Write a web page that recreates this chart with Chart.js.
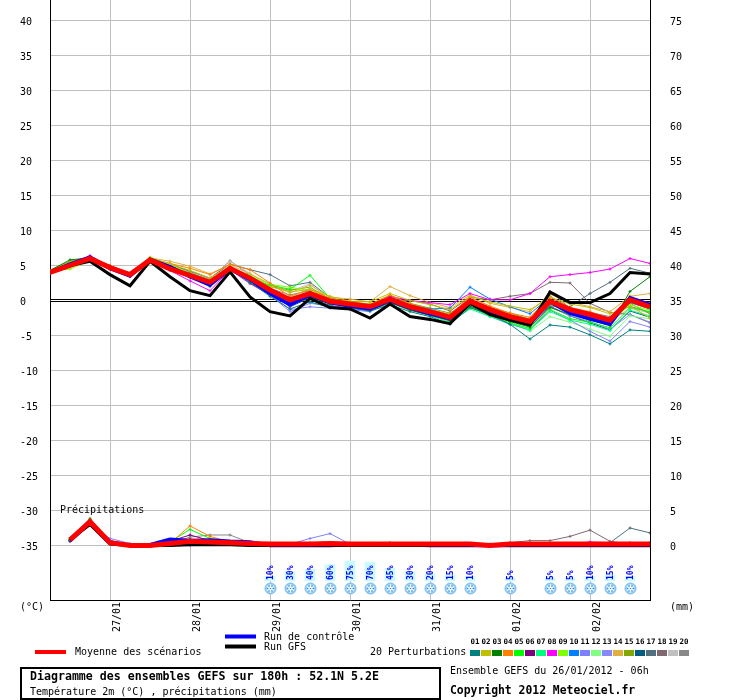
<!DOCTYPE html>
<html><head><meta charset="utf-8">
<script src="https://cdn.jsdelivr.net/npm/chart.js@4.4.0/dist/chart.umd.min.js"></script>
<style>html,body{margin:0;padding:0;background:#fff}canvas{display:block}</style>
</head><body>
<canvas id="c" width="740" height="700"></canvas>
<script>
// ---------- DATA ----------
const hoursT = [0,6,12,18,24,30,36,42,48,54,60,66,72,78,84,90,96,102,108,114,120,126,132,138,144,150,156,162,168,174,180];
const hoursP = [6,12,18,24,30,36,42,48,54,60,66,72,78,84,90,96,102,108,114,120,126,132,138,144,150,156,162,168,174,180];
const dateTicks = [18,42,66,90,114,138,162];
const dateLabels = ['27/01','28/01','29/01','30/01','31/01','01/02','02/02'];
const tempTicks = [40,35,30,25,20,15,10,5,0,-5,-10,-15,-20,-25,-30,-35];
const rightTicks = [75,70,65,60,55,50,45,40,35,30,25,20,15,10,5,0];

// Temperature 2m (°C)
const meanT = [4.0,5.0,6.0,4.7,3.7,5.8,4.5,3.6,2.6,4.6,3.2,1.5,0.1,1.0,-0.1,-0.5,-0.9,0.2,-0.9,-1.6,-2.4,-0.1,-1.3,-2.3,-3.0,-0.1,-1.3,-2.0,-2.8,0.1,-0.9];
const gfsT  = [4.0,5.0,5.6,3.7,2.1,5.6,3.4,1.4,0.7,4.1,0.5,-1.6,-2.2,0.3,-1.0,-1.2,-2.5,-0.5,-2.3,-2.7,-3.3,-0.4,-2.0,-2.8,-3.5,1.2,-0.3,-0.3,1.0,4.0,3.8];
const ctrlT = [4.0,5.2,6.2,4.6,3.5,5.9,4.8,3.4,2.2,4.5,3.0,1.0,-0.6,0.8,-0.3,-0.8,-1.2,0.0,-1.1,-1.9,-2.6,-0.3,-1.6,-2.6,-3.3,-0.2,-1.8,-2.6,-3.4,0.4,-0.6];
const p01T = [4.1,5.3,6.0,4.5,3.5,5.6,4.7,3.4,2.0,4.4,2.6,0.6,-1.2,-0.2,-1.0,-1.1,-1.5,-0.6,-1.6,-2.3,-3.4,-1.0,-2.0,-3.4,-5.5,-3.5,-3.8,-4.9,-6.2,-4.2,-4.4];
const p02T = [4.2,5.5,6.1,4.9,3.8,6.1,5.2,4.3,3.2,4.9,3.3,2.0,1.2,1.6,0.6,-0.1,-0.2,1.0,0.0,-0.6,-1.3,0.6,-0.2,-0.8,-1.3,0.4,-0.5,-1.0,-1.9,-0.8,-2.5];
const p03T = [4.3,5.8,6.1,4.6,3.6,5.8,4.8,3.8,2.4,4.8,2.5,1.0,-0.5,0.5,-0.5,-0.8,-1.4,-0.3,-1.4,-2.1,-2.9,-0.8,-2.0,-3.0,-3.8,-1.0,-2.0,-2.8,-3.6,1.3,3.4];
const p04T = [4.0,5.2,5.9,5.0,3.8,6.0,5.3,4.6,3.7,5.2,4.4,2.5,0.6,1.6,0.3,-0.2,-0.6,0.8,-0.5,-1.3,-2.0,0.5,-0.8,-1.8,-2.4,0.6,-1.0,-1.6,-2.6,0.6,-0.4];
const p05T = [3.9,4.9,5.9,4.7,3.5,5.6,4.6,3.3,2.3,4.3,3.0,2.2,1.6,3.6,0.3,-0.5,-1.2,0.1,-1.0,-1.9,-2.8,-1.0,-2.1,-3.2,-4.0,-1.3,-2.6,-3.1,-3.9,-1.0,-1.6];
const p06T = [4.0,5.1,6.2,4.9,3.7,5.9,5.0,3.7,2.5,4.6,3.3,1.3,-0.3,1.2,-0.2,-0.6,-1.1,0.4,-0.7,-1.5,-2.3,0.2,-1.1,-2.1,-2.9,0.0,-1.4,-2.2,-3.0,-0.2,-0.9];
const p07T = [4.1,5.3,6.0,4.7,3.6,5.7,4.8,3.6,2.7,4.5,3.4,1.8,0.3,0.6,-0.4,-0.8,-1.3,-0.2,-1.3,-2.2,-3.1,-1.2,-2.3,-3.3,-4.2,-1.6,-2.8,-3.4,-4.3,-1.4,-2.2];
const p08T = [4.0,5.2,6.4,4.8,3.6,6.0,4.3,2.8,1.4,4.4,2.4,0.8,-0.8,0.6,-0.4,-0.7,-0.9,0.6,0.0,-0.3,-0.6,1.0,0.1,0.1,1.0,3.4,3.7,4.0,4.5,6.0,5.3];
const p09T = [4.2,4.5,5.7,4.6,3.6,6.2,5.1,3.9,2.8,4.7,3.6,2.3,1.9,1.4,0.1,-0.4,-0.9,0.3,-0.8,-1.5,-2.3,-0.2,-1.6,-2.5,-3.3,-0.5,-1.7,-2.4,-3.2,-0.6,-1.4];
const p10T = [4.0,5.4,6.3,4.9,3.7,5.8,4.9,3.6,2.4,4.7,3.0,1.2,-0.6,0.7,-0.4,-0.9,-1.0,0.4,-0.6,-1.2,-1.1,1.9,0.2,-0.9,-1.9,0.5,-1.0,-1.8,-2.5,-0.3,-1.2];
const p11T = [3.9,5.1,6.1,4.4,3.4,5.6,4.6,3.5,2.3,4.5,3.2,0.9,-1.3,-0.9,-1.1,-1.3,-1.6,-0.3,-1.3,-2.0,-2.9,-0.9,-2.3,-3.4,-4.2,-1.4,-2.8,-4.4,-5.8,-3.0,-3.8];
const p12T = [4.1,5.2,5.9,4.7,3.7,5.8,4.9,3.8,2.6,4.6,3.1,1.6,0.4,1.8,-0.3,-0.6,-1.0,0.3,-0.8,-1.7,-2.6,-0.6,-2.0,-3.2,-4.4,-2.3,-3.1,-4.1,-5.1,-2.2,-2.6];
const p13T = [4.0,5.0,6.0,4.6,3.5,5.7,4.7,3.5,2.2,4.3,2.8,0.8,-1.6,-0.4,-0.8,-1.0,-1.2,-0.2,-1.2,-1.9,-2.7,-0.7,-1.8,-2.8,-3.7,-0.9,-2.2,-3.0,-4.1,-2.0,-3.1];
const p14T = [4.2,5.4,6.1,5.0,3.9,6.1,5.6,4.9,3.8,5.1,3.8,2.4,1.1,2.2,0.5,0.2,-0.2,2.0,0.7,-0.3,-1.0,0.8,-0.4,-1.0,-1.6,0.9,-0.2,-0.9,-1.6,0.6,1.0];
const p15T = [4.3,5.6,6.0,4.8,3.7,5.9,5.0,3.9,2.9,4.8,3.5,2.0,1.5,1.9,0.2,-0.2,-0.5,0.7,-0.4,-1.1,-1.8,0.1,-1.0,-1.8,-2.7,-0.4,-1.6,-2.3,-3.1,-0.4,-1.9];
const p16T = [4.0,5.3,6.2,4.8,3.6,5.8,4.9,3.7,2.6,4.8,3.4,1.3,-0.9,0.4,-0.7,-1.1,-1.3,-0.1,-1.2,-1.8,-2.7,-0.5,-1.9,-2.9,-3.5,-0.8,-2.2,-3.2,-4.2,-1.5,-2.4];
const p17T = [4.1,5.6,6.1,5.0,3.8,5.9,5.2,4.2,3.2,5.2,4.4,3.7,2.1,2.6,0.4,-0.3,-0.6,0.5,-0.6,-1.3,-2.0,-0.1,-1.4,-2.2,-2.8,-0.8,-0.9,1.0,2.6,4.6,3.9];
const p18T = [4.0,5.4,6.0,4.7,3.6,5.8,4.7,3.6,2.5,4.6,3.1,1.5,0.0,0.9,-0.2,-0.7,-1.0,0.0,0.0,-0.5,-1.5,0.5,0.1,0.6,1.0,2.6,2.5,-0.4,-1.7,-2.0,-3.2];
const p19T = [4.1,5.3,6.1,4.9,3.8,6.0,5.1,4.0,3.1,5.6,3.9,2.0,1.3,2.4,0.0,-0.4,-0.8,0.5,-0.6,-1.4,-2.2,0.4,-0.9,-2.0,-2.6,-0.3,-1.5,-2.2,-3.0,-1.1,-1.8];
const p20T = [4.0,5.5,6.2,5.0,3.7,5.9,5.1,4.1,3.0,5.7,3.6,1.7,0.8,1.4,-0.5,-0.8,-1.1,0.2,-0.9,-1.6,-2.4,-0.4,-1.3,-2.1,-2.9,1.3,-1.1,-1.7,-2.3,-0.8,-1.7];

// Precipitation (mm per 6h)
const meanP = [0.8,3.4,0.4,0.0,0.0,0.3,0.6,0.5,0.4,0.3,0.2,0.2,0.2,0.3,0.2,0.2,0.2,0.2,0.2,0.2,0.2,0.0,0.2,0.2,0.2,0.2,0.2,0.2,0.2,0.2];
const gfsP  = [0.9,3.0,0.2,0.0,0.0,0.0,0.1,0.1,0.1,0.0,0.0,0.0,0.0,0.0,0.0,0.0,0.0,0.0,0.0,0.0,0.0,0.0,0.0,0.0,0.0,0.0,0.0,0.0,0.0,0.0];
const ctrlP = [0.7,3.2,0.5,0.0,0.1,0.9,0.7,0.8,0.6,0.5,0.0,0.0,0.0,0.0,0.1,0.1,0.1,0.1,0.0,0.0,0.0,0.0,0.0,0.0,0.0,0.0,0.0,0.0,0.0,0.0];
const p01P = [0.8,3.5,0.3,0.0,0.0,0.2,0.4,0.4,0.3,0.2,0.1,0.2,0.3,0.4,0.2,0.1,0.2,0.2,0.3,0.2,0.2,0.0,0.1,0.2,0.1,0.2,0.3,0.2,0.2,0.1];
const p02P = [0.9,3.6,0.4,0.0,0.1,0.3,0.5,0.6,0.4,0.2,0.2,0.3,0.3,0.2,0.2,0.3,0.4,0.2,0.2,0.1,0.2,0.0,0.2,0.1,0.2,0.2,0.1,0.2,0.3,0.2];
const p03P = [0.7,3.7,0.4,0.0,0.0,0.4,0.8,0.7,0.5,0.3,0.2,0.2,0.2,0.3,0.2,0.2,0.1,0.2,0.2,0.2,0.1,0.0,0.2,0.2,0.2,0.2,0.2,0.1,0.2,0.4];
const p04P = [0.8,3.3,0.3,0.0,0.0,0.3,2.8,1.3,0.5,0.3,0.1,0.2,0.2,0.2,0.3,0.2,0.2,0.2,0.2,0.2,0.2,0.0,0.2,0.2,0.3,0.2,0.2,0.2,0.2,0.2];
const p05P = [0.9,3.4,0.5,0.0,0.1,0.5,2.3,1.0,0.6,0.3,0.2,0.2,0.3,0.4,0.3,0.2,0.2,0.2,0.1,0.2,0.3,0.0,0.2,0.2,0.2,0.2,0.1,0.2,0.2,0.2];
const p06P = [0.6,3.1,0.4,0.0,0.0,0.6,1.5,0.7,0.4,0.2,0.2,0.2,0.2,0.2,0.2,0.2,0.2,0.2,0.2,0.2,0.2,0.0,0.2,0.2,0.2,0.3,0.2,0.3,0.2,0.2];
const p07P = [0.8,3.5,0.4,0.0,0.0,0.4,0.6,0.5,0.4,0.3,0.2,0.2,0.2,0.4,0.2,0.2,0.2,0.2,0.2,0.2,0.2,0.0,0.2,0.2,0.2,0.2,0.2,0.2,0.2,0.4];
const p08P = [0.7,3.3,0.3,0.0,0.0,0.2,0.0,0.2,0.3,0.2,0.1,0.1,0.2,0.2,0.1,0.2,0.2,0.2,0.2,0.1,0.2,0.0,0.2,0.2,0.2,0.2,0.5,0.4,0.4,0.2];
const p09P = [0.9,3.6,0.5,0.1,0.0,0.3,0.7,0.5,0.4,0.3,0.2,0.2,0.3,0.2,0.2,0.2,0.2,0.3,0.2,0.2,0.2,0.0,0.2,0.2,0.1,0.2,0.2,0.2,0.2,0.2];
const p10P = [0.8,3.2,0.4,0.0,0.1,0.5,0.9,0.6,0.5,0.3,0.2,0.2,0.2,0.2,0.2,0.2,0.3,0.2,0.2,0.2,0.2,0.0,0.2,0.2,0.2,0.2,0.2,0.2,0.2,0.2];
const p11P = [0.7,3.0,1.0,0.3,0.0,0.3,0.5,0.4,0.3,0.3,0.2,0.2,1.0,1.7,0.2,0.2,0.2,0.2,0.2,0.2,0.2,0.0,0.2,0.2,0.2,0.2,0.2,0.2,0.2,0.2];
const p12P = [0.8,3.4,0.5,0.0,0.0,0.4,0.6,0.5,0.4,0.2,0.2,0.2,0.2,0.3,0.4,0.3,0.2,0.2,0.2,0.2,0.2,0.0,0.2,0.2,0.2,0.2,0.2,0.2,0.2,0.2];
const p13P = [0.6,3.2,0.7,0.1,0.0,0.3,0.4,0.4,0.4,0.3,0.2,0.2,0.2,0.2,0.2,0.2,0.2,0.2,0.2,0.2,0.2,0.0,0.2,0.2,0.2,0.2,0.2,0.2,0.2,0.2];
const p14P = [0.8,3.6,0.4,0.0,0.0,0.3,0.5,0.5,0.4,0.2,0.2,0.2,0.2,0.2,0.2,0.3,0.4,0.2,0.2,0.2,0.2,0.0,0.2,0.2,0.2,0.2,0.2,0.2,0.2,0.2];
const p15P = [0.9,3.8,0.4,0.0,0.0,0.4,0.6,0.5,0.4,0.3,0.2,0.3,0.4,0.3,0.2,0.2,0.2,0.2,0.2,0.2,0.3,0.0,0.2,0.2,0.2,0.2,0.2,0.2,0.2,0.2];
const p16P = [0.7,3.3,0.4,0.0,0.0,0.3,0.5,0.4,0.4,0.2,0.2,0.2,0.2,0.2,0.2,0.2,0.2,0.2,0.2,0.2,0.2,0.0,0.2,0.2,0.2,0.2,0.2,0.2,0.2,0.2];
const p17P = [0.8,3.7,0.4,0.0,0.0,0.3,0.5,0.5,0.4,0.3,0.2,0.2,0.2,0.2,0.2,0.2,0.2,0.2,0.2,0.2,0.2,0.0,0.2,0.2,0.2,0.2,0.2,0.4,2.5,1.8];
const p18P = [0.7,3.4,0.3,0.0,0.0,0.3,0.6,0.5,0.4,0.2,0.2,0.2,0.2,0.2,0.2,0.2,0.2,0.2,0.2,0.2,0.2,0.2,0.4,0.7,0.7,1.3,2.2,0.6,0.2,0.2];
const p19P = [0.8,3.5,0.4,0.0,0.0,0.3,0.6,0.6,0.5,0.3,0.2,0.2,0.2,0.2,0.2,0.2,0.2,0.2,0.2,0.2,0.2,0.0,0.2,0.2,0.2,0.2,0.2,0.2,0.2,0.2];
const p20P = [0.8,3.9,0.5,0.0,0.0,0.3,1.2,1.5,1.5,0.4,0.2,0.2,0.2,0.2,0.2,0.2,0.2,0.2,0.2,0.2,0.2,0.0,0.2,0.2,0.2,0.2,0.2,0.2,0.2,0.2];

// Snow probability (%)
const snowHours = [66,72,78,84,90,96,102,108,114,120,126,138,150,156,162,168,174];
const snowPct   = [10,30,40,60,75,70,45,30,20,15,10,5,5,5,10,15,10];

const pertNames = ['01','02','03','04','05','06','07','08','09','10','11','12','13','14','15','16','17','18','19','20'];
const pertColors = ['#008080','#c0c000','#008000','#ff8000','#00ff00','#800080','#00ff80','#ff00ff','#80ff00','#0080ff',
                    '#8080ff','#80ff80','#8888ff','#e0b040','#80a800','#005c80','#507080','#806870','#c0c0c0','#888888'];
const pertT = [p01T,p02T,p03T,p04T,p05T,p06T,p07T,p08T,p09T,p10T,p11T,p12T,p13T,p14T,p15T,p16T,p17T,p18T,p19T,p20T];
const pertP = [p01P,p02P,p03P,p04P,p05P,p06P,p07P,p08P,p09P,p10P,p11P,p12P,p13P,p14P,p15P,p16P,p17P,p18P,p19P,p20P];

// ---------- CHART ----------
const MONO = "'DejaVu Sans Mono', monospace";
const pts = (hrs, vals) => vals.map((v, i) => ({x: hrs[i], y: v}));
const mainLine = (label, hrs, vals, color, w, axis) => ({
  type: 'line', label, data: pts(hrs, vals), yAxisID: axis, borderColor: color, backgroundColor: color,
  borderWidth: w, pointRadius: 0, tension: 0, fill: false
});
const pertLine = (i, hrs, vals, axis) => ({
  type: 'line', label: 'P' + pertNames[i], data: pts(hrs, vals), yAxisID: axis,
  borderColor: pertColors[i], backgroundColor: pertColors[i], borderWidth: 1,
  pointRadius: 1.5, pointStyle: 'cross', pointBorderWidth: 1, tension: 0, fill: false
});

const datasets = [
  mainLine('Moyenne T', hoursT, meanT, '#ff0000', 5, 'y'),
  mainLine('GFS T', hoursT, gfsT, '#000000', 3, 'y'),
  mainLine('Contrôle T', hoursT, ctrlT, '#0000ff', 3.5, 'y'),
  mainLine('Moyenne P', hoursP, meanP, '#ff0000', 5, 'y2'),
  mainLine('GFS P', hoursP, gfsP, '#000000', 3, 'y2'),
  mainLine('Contrôle P', hoursP, ctrlP, '#0000ff', 3.5, 'y2'),
  ...pertT.map((v, i) => pertLine(i, hoursT, v, 'y')),
  ...pertP.map((v, i) => pertLine(i, hoursP, v, 'y2')),
  { type: 'bar', label: 'Neige', data: pts(snowHours, snowPct), yAxisID: 'ySnow',
    backgroundColor: '#c8faff', borderWidth: 0, barThickness: 10, base: -8 }
];

function flake(ctx, x, y) {
  ctx.save();
  ctx.beginPath(); ctx.arc(x, y, 5.5, 0, Math.PI * 2);
  ctx.fillStyle = '#9ad2f6'; ctx.fill();
  ctx.strokeStyle = '#7ab6e6'; ctx.lineWidth = 1; ctx.stroke();
  ctx.strokeStyle = '#ffffff'; ctx.lineWidth = 1;
  for (let k = 0; k < 3; k++) {
    const a = k * Math.PI / 3 + Math.PI / 2;
    ctx.beginPath();
    ctx.moveTo(x - 4.2 * Math.cos(a), y - 4.2 * Math.sin(a));
    ctx.lineTo(x + 4.2 * Math.cos(a), y + 4.2 * Math.sin(a));
    ctx.stroke();
  }
  ctx.fillStyle = '#3a86d0';
  for (let k = 0; k < 6; k++) {
    const a = k * Math.PI / 3;
    ctx.fillRect(x + 3 * Math.cos(a) - 0.5, y + 3 * Math.sin(a) - 0.5, 1, 1);
  }
  ctx.fillRect(x - 0.5, y - 0.5, 1, 1);
  ctx.restore();
}

const deco = {
  id: 'deco',
  beforeDatasetsDraw(chart) {
    const {ctx, chartArea: a, scales: {y}} = chart;
    const p = Math.floor(y.getPixelForValue(0));
    ctx.save();
    ctx.fillStyle = '#ffffff'; ctx.fillRect(a.left + 1, p - 1, a.right - a.left - 1, 3);
    ctx.fillStyle = '#000000';
    ctx.fillRect(a.left, p - 1, a.right - a.left, 1);
    ctx.fillRect(a.left, p + 1, a.right - a.left, 1);
    ctx.restore();
  },
  afterDatasetsDraw(chart) {
    const {ctx, scales: {x}} = chart;
    ctx.save();
    snowHours.forEach((h, i) => {
      const px = x.getPixelForValue(h);
      ctx.save();
      ctx.translate(px + 0.5, 580);
      ctx.rotate(-Math.PI / 2);
      ctx.font = "bold 8px " + MONO;
      ctx.fillStyle = '#0000ff';
      ctx.textAlign = 'left'; ctx.textBaseline = 'middle';
      ctx.fillText(snowPct[i] + '%', 0, 0);
      ctx.restore();
      flake(ctx, px + 0.5, 588.5);
    });
    ctx.restore();
  },
  afterDraw(chart) {
    const ctx = chart.ctx;
    ctx.save();
    ctx.fillStyle = '#000'; ctx.textBaseline = 'middle'; ctx.textAlign = 'left';
    ctx.font = "10px " + MONO;
    ctx.fillText('Précipitations', 60, 510);
    ctx.fillText('(°C)', 20, 607);
    ctx.fillText('(mm)', 670, 607);
    // legend
    const bar = (x1, x2, y, c) => { ctx.fillStyle = c; ctx.fillRect(x1, y - 2, x2 - x1, 4); };
    bar(35, 66, 652, '#ff0000');
    bar(225, 256, 636.5, '#0000ff');
    bar(225, 256, 646.5, '#000000');
    ctx.fillStyle = '#000';
    ctx.fillText('Moyenne des scénarios', 75, 652);
    ctx.fillText('Run de contrôle', 264, 637);
    ctx.fillText('Run GFS', 264, 647);
    ctx.fillText('20 Perturbations', 370, 652);
    // perturbation swatches
    ctx.textAlign = 'center';
    ctx.font = "bold 7.5px " + MONO;
    pertColors.forEach((c, i) => {
      const sx = 470 + i * 11;
      ctx.fillStyle = c; ctx.fillRect(sx, 650, 10, 6);
      ctx.fillStyle = '#000'; ctx.fillText(pertNames[i], sx + 5, 642);
    });
    // title box
    ctx.strokeStyle = '#000'; ctx.lineWidth = 2;
    ctx.strokeRect(21, 668, 419, 31);
    ctx.textAlign = 'left';
    ctx.font = "bold 11.6px " + MONO;
    ctx.fillText('Diagramme des ensembles GEFS sur 180h : 52.1N 5.2E', 30, 677);
    ctx.font = "10px " + MONO;
    ctx.fillText('Température 2m (°C) , précipitations (mm)', 30, 692);
    ctx.fillText('Ensemble GEFS du 26/01/2012 - 06h', 450, 671);
    ctx.font = "bold 11.4px " + MONO;
    ctx.fillText('Copyright 2012 Meteociel.fr', 450, 691);
    ctx.restore();
  }
};

new Chart(document.getElementById('c'), {
  type: 'line',
  data: { datasets },
  plugins: [deco],
  options: {
    responsive: false, animation: false, devicePixelRatio: 1,
    layout: { autoPadding: false, padding: { left: 20, right: 0, top: 0, bottom: 0 } },
    plugins: { legend: { display: false }, tooltip: { enabled: false }, title: { display: false } },
    scales: {
      x: {
        type: 'linear', position: 'bottom', min: 0, max: 180, offset: false,
        afterBuildTicks: s => { s.ticks = dateTicks.map(v => ({value: v})); },
        afterFit: s => { s.height = 100; s.paddingLeft = 0; s.paddingRight = 0; },
        grid: { color: '#c0c0c0', lineWidth: 1, drawTicks: false, offset: false },
        border: { display: true, color: '#000', width: 1 },
        ticks: {
          autoSkip: false, minRotation: 90, maxRotation: 90, labelOffset: 7, padding: 2,
          color: '#000', font: { family: MONO, size: 10 },
          callback: v => { const i = dateTicks.indexOf(v); return i >= 0 ? dateLabels[i] : ''; }
        }
      },
      y: {
        type: 'linear', position: 'left', min: -42.786, max: 42.929,
        afterBuildTicks: s => { s.ticks = tempTicks.map(v => ({value: v})); },
        afterFit: s => { s.width = 30; s.paddingTop = 0; s.paddingBottom = 0; },
        grid: { color: c => (c.tick && c.tick.value === 0) ? 'rgba(0,0,0,0)' : '#c0c0c0', lineWidth: 1, drawTicks: false },
        border: { display: true, color: '#000', width: 1 },
        ticks: { crossAlign: 'far', labelOffset: 2, padding: 4, color: '#000', font: { family: MONO, size: 10 } }
      },
      y2: {
        type: 'linear', position: 'right', min: -7.786, max: 77.929,
        afterBuildTicks: s => { s.ticks = rightTicks.map(v => ({value: v})); },
        afterFit: s => { s.width = 90; s.paddingTop = 0; s.paddingBottom = 0; },
        grid: { display: false, drawTicks: false },
        border: { display: true, color: '#000', width: 1 },
        ticks: { crossAlign: 'near', labelOffset: 2, padding: 20, color: '#000', font: { family: MONO, size: 10 } }
      },
      ySnow: {
        type: 'linear', display: false, min: -87.5, max: 2412.5
      }
    }
  }
});
</script>
</body></html>
